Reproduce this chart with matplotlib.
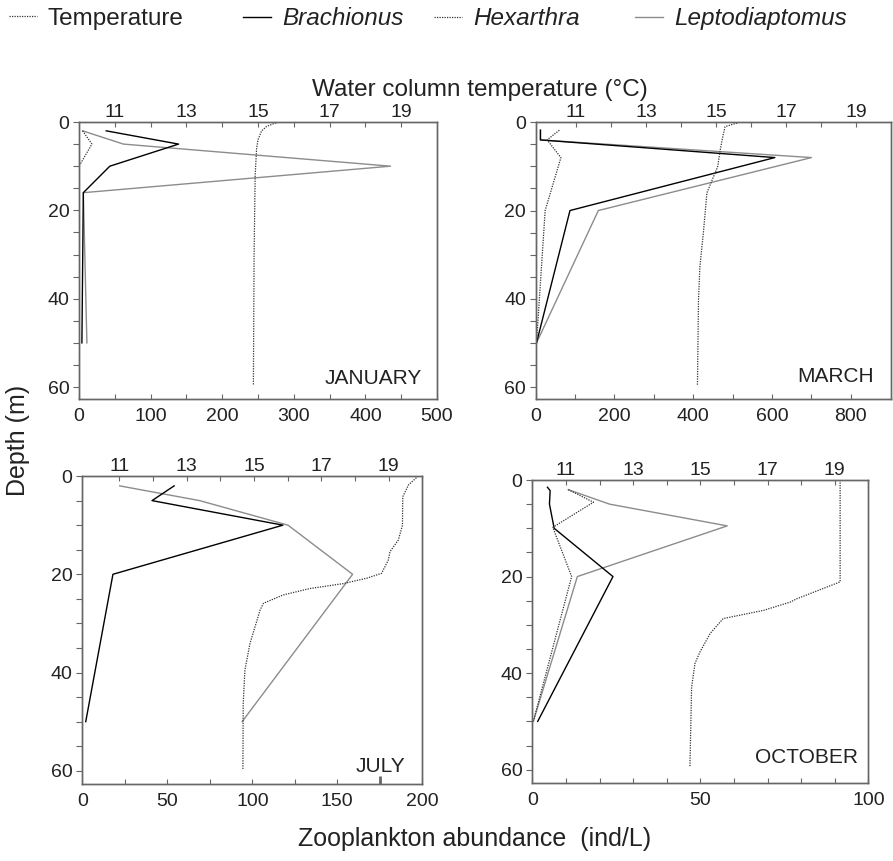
import matplotlib.pyplot as plt
from matplotlib.lines import Line2D
import numpy as np

plt.rcParams['font.family'] = ['Liberation Sans', 'DejaVu Sans']

# --- January ---
jan_depth = [2, 5, 10, 16, 50]
jan_brachionus = [38, 139, 43, 6, 4]
jan_lepto = [5, 62, 435, 6, 11]
jan_hex_depth = [2, 5, 10]
jan_hexarthra = [5, 18, 0]
jan_temp_depth = [0, 0.5, 1, 2, 4, 6, 12, 30, 59.5]
jan_temp = [15.57, 15.4, 15.24, 15.1, 15.0, 14.96, 14.92, 14.89, 14.87]

# --- March ---
mar_depth = [1.8, 4, 8, 20, 50]
mar_brachionus = [12, 12, 607, 87, 2]
mar_lepto = [12, 12, 700, 159, 2]
mar_hexarthra = [60, 29, 64, 24, 2]
mar_temp_depth = [0, 1, 3, 6.3, 10, 16, 25, 32.7, 40.3, 59.6]
mar_temp = [15.67, 15.26, 15.2, 15.12, 15.05, 14.74, 14.64, 14.54, 14.5, 14.47]

# --- July ---
jul_depth = [2, 5, 10, 20, 50]
jul_brachionus = [54, 41, 118, 18, 2]
jul_lepto = [22, 69, 121, 159, 94]
jul_temp_depth = [0, 1.8, 4.2, 10, 13, 15.4, 17.1, 19.8, 20.8, 21.9, 22.9,
                  24.2, 25.9, 27.3, 34.1, 39.5, 46.3, 59.9]
jul_temp = [19.88, 19.59, 19.42, 19.41, 19.29, 19.04, 18.99, 18.79, 18.35,
            17.65, 16.66, 15.87, 15.28, 15.18, 14.88, 14.73, 14.68, 14.67]

# --- October ---
oct_bra_depth = [1.5, 2.2, 5, 10, 20, 50]
oct_brachionus = [4.5, 5.3, 5.1, 6.5, 24, 1.6]
oct_depth = [2, 5, 9.5, 20, 50]
oct_lepto = [10.7, 23, 58, 13.4, 0.3]
oct_hex_depth = [2, 4.6, 9.8, 20, 50]
oct_hexarthra = [10.7, 18.2, 6.1, 11.7, 0.3]
oct_temp_depth = [0, 21.1, 24.6, 25.3, 27, 28.7, 31.8, 35.6, 38, 42.9, 59.5]
oct_temp = [19.16, 19.16, 17.87, 17.67, 16.88, 15.68, 15.29, 14.99, 14.84, 14.74, 14.69]

months = ['JANUARY', 'MARCH', 'JULY', 'OCTOBER']

spine_col = '#666666'
txt_col = '#222222'
gray = '#8c8c8c'
dots = (0, (1, 1))

fig = plt.figure(figsize=(8.93, 8.61), dpi=100)

panels = [
    dict(rect=[0.0885, 0.5366, 0.4009, 0.3217], xlim=(0, 500), tlim=(10, 20),
         major=np.arange(0, 501, 100), minor=np.arange(50, 500, 100),
         bra=(jan_depth, jan_brachionus), lep=(jan_depth, jan_lepto),
         hexa=(jan_hex_depth, jan_hexarthra), temp=(jan_temp_depth, jan_temp),
         mpos=(0.959, 0.054)),
    dict(rect=[0.5999, 0.5366, 0.3979, 0.3214], xlim=(0, 902), tlim=(9.85, 20),
         major=np.arange(0, 801, 200), minor=np.arange(100, 900, 200),
         bra=(mar_depth, mar_brachionus), lep=(mar_depth, mar_lepto),
         hexa=(mar_depth, mar_hexarthra), temp=(mar_temp_depth, mar_temp),
         mpos=(0.952, 0.0625)),
    dict(rect=[0.0922, 0.0894, 0.3807, 0.3577], xlim=(0, 200), tlim=(9.9, 20),
         major=np.arange(0, 201, 50), minor=np.arange(25, 200, 50),
         bra=(jul_depth, jul_brachionus), lep=(jul_depth, jul_lepto),
         hexa=None, temp=(jul_temp_depth, jul_temp),
         mpos=(0.951, 0.040)),
    dict(rect=[0.5961, 0.0909, 0.3763, 0.3516], xlim=(0, 100), tlim=(10, 20),
         major=[0, 50, 100], minor=[10, 20, 30, 40, 60, 70, 80, 90],
         bra=(oct_bra_depth, oct_brachionus), lep=(oct_depth, oct_lepto),
         hexa=(oct_hex_depth, oct_hexarthra), temp=(oct_temp_depth, oct_temp),
         mpos=(0.970, 0.066)),
]

for p, month in zip(panels, months):
    ax = fig.add_axes(p['rect'])
    ax.plot(p['lep'][1], p['lep'][0], color=gray, lw=1)
    ax.plot(p['bra'][1], p['bra'][0], color='black', lw=1)
    if p['hexa'] is not None:
        ax.plot(p['hexa'][1], p['hexa'][0], color='#333333', lw=0.9, ls=dots)
    ax.set_xlim(p['xlim'])
    ax.set_ylim(62.7, 0)
    ax.set_xticks(p['major'])
    ax.set_xticks(p['minor'], minor=True)
    ax.set_yticks([0, 20, 40, 60])
    ax.set_yticks(np.arange(0, 61, 5), minor=True)
    ax.tick_params(axis='y', which='both', direction='out', length=4, width=0.8,
                   color=spine_col, labelsize=14, labelcolor=txt_col, pad=3)
    ax.tick_params(axis='x', which='both', direction='in', length=3.6, width=0.8,
                   color=spine_col, labelsize=14, labelcolor=txt_col, pad=6.5)
    for s in ax.spines.values():
        s.set_color(spine_col)
        s.set_linewidth(1.0)
    ax.text(p['mpos'][0], p['mpos'][1], month, transform=ax.transAxes,
            ha='right', va='baseline', fontsize=15, color=txt_col)

    # temperature on the top axis
    tx = ax.twiny()
    tx.plot(p['temp'][1], p['temp'][0], color='#333333', lw=0.9, ls=dots)
    tx.set_xlim(p['tlim'])
    tx.set_xticks([11, 13, 15, 17, 19])
    tx.set_xticks([12, 14, 16, 18], minor=True)
    tx.tick_params(axis='x', which='both', direction='in', length=3.6, width=0.8,
                   color=spine_col, labelsize=14, labelcolor=txt_col, pad=1)
    for s in tx.spines.values():
        s.set_color(spine_col)
        s.set_linewidth(1.0)

    if month == 'JULY':
        # the 175 tick is drawn heavier in the original
        for t, loc in zip(ax.xaxis.get_minor_ticks(), p['minor']):
            if loc == 175:
                t.tick1line.set_markeredgewidth(2.0)
                t.tick1line.set_markersize(6)
                t.tick1line.set_color('#222222')

# legend, placed entry by entry
leg_items = [
    ('Temperature', dict(color='#333333', lw=0.9, ls=dots), 'normal', 0.0096),
    ('Brachionus', dict(color='black', lw=1), 'italic', 0.272),
    ('Hexarthra', dict(color='#333333', lw=0.9, ls=dots), 'italic', 0.486),
    ('Leptodiaptomus', dict(color=gray, lw=1), 'italic', 0.711),
]
for label, style, fstyle, xpos in leg_items:
    h = Line2D([], [], **style)
    lg = fig.legend(handles=[h], labels=[label], loc='center left',
                    bbox_to_anchor=(xpos, 0.978), frameon=False,
                    prop={'size': 17.5, 'style': fstyle},
                    handlelength=1.15, handletextpad=0.45,
                    borderpad=0, borderaxespad=0)
    for t in lg.get_texts():
        t.set_color(txt_col)

fig.text(480 / 893, 1 - 96 / 861, 'Water column temperature (°C)',
         ha='center', va='baseline', fontsize=17.5, color=txt_col)
fig.text(474.5 / 893, 1 - 839 / 861, 'Zooplankton abundance  (ind/L)',
         ha='center', va='center', fontsize=18, color=txt_col)
fig.text(18 / 893, 1 - 440 / 861, 'Depth (m)', rotation=90,
         ha='center', va='center', fontsize=18, color=txt_col)

fig.savefig('out.png', dpi=100)
